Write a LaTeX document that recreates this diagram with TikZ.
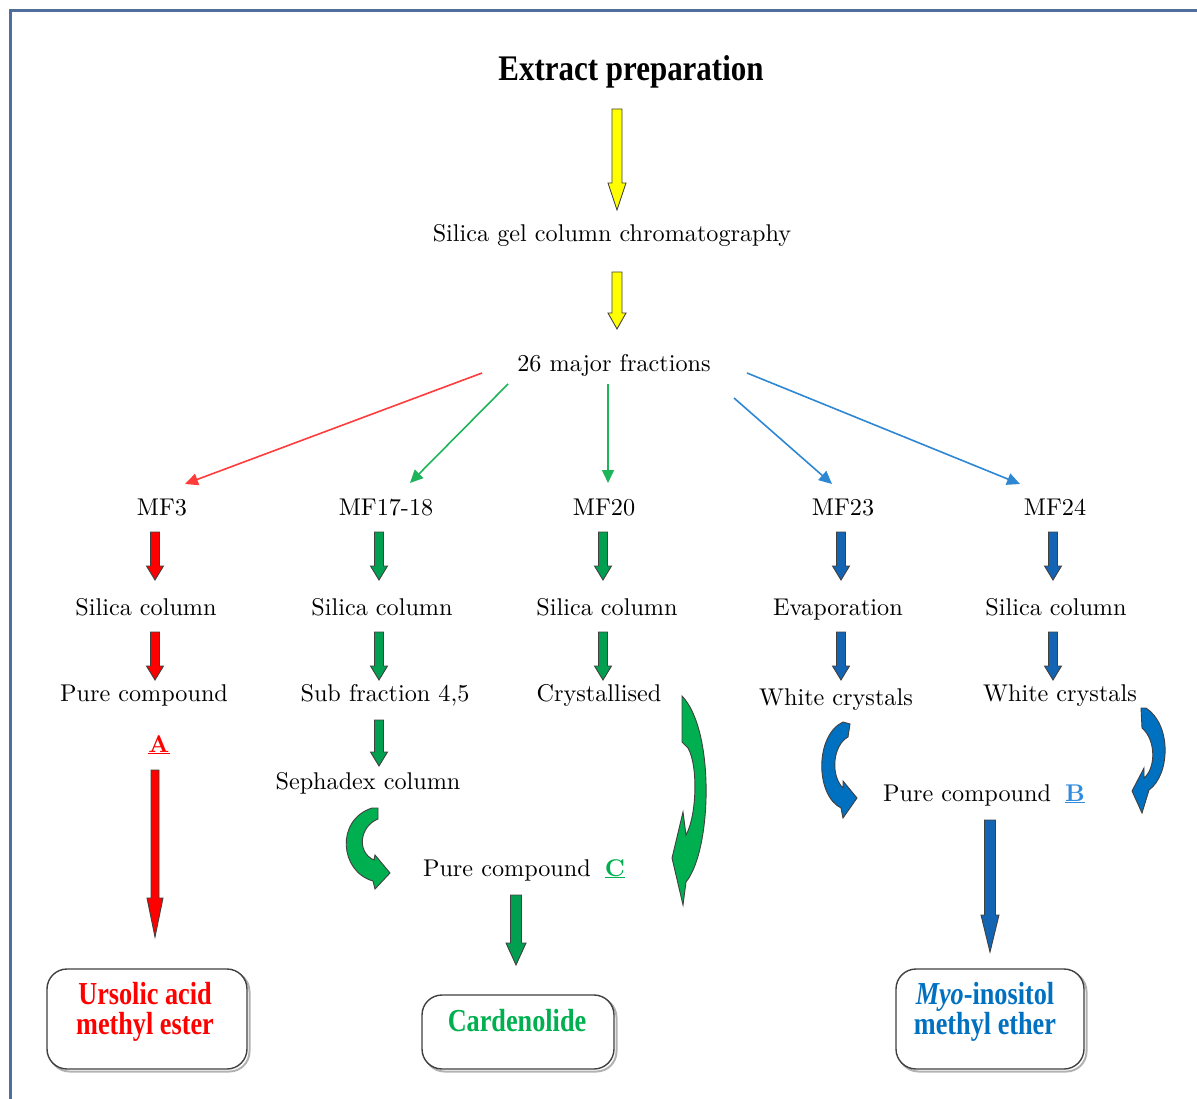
\documentclass[tikz,border=0pt]{standalone}
\usepackage{fontspec}
\setmainfont{lmroman10-regular.otf}[BoldFont=lmroman10-bold.otf, ItalicFont=lmroman10-italic.otf]
\newfontfamily\boxfont[FakeStretch=0.82]{Liberation Serif}
\newfontfamily\titlefont[FakeStretch=0.86]{Liberation Serif}
\usetikzlibrary{calc,arrows.meta}
\definecolor{frameblue}{RGB}{79,110,155}
\definecolor{ayellow}{RGB}{255,255,0}
\definecolor{ared}{RGB}{255,0,0}
\definecolor{agreen}{RGB}{0,160,80}
\definecolor{agreenC}{RGB}{0,176,80}
\definecolor{ablue}{RGB}{20,100,180}
\definecolor{ablueC}{RGB}{0,112,192}
\definecolor{tred}{RGB}{255,60,60}
\definecolor{tgreen}{RGB}{30,180,90}
\definecolor{tblue}{RGB}{45,135,210}
\definecolor{txtgreen}{RGB}{0,176,80}
\definecolor{txtblue}{RGB}{0,112,192}
\definecolor{Bblue}{RGB}{50,140,220}
\tikzset{
  lbl/.style={font=\fontsize{24.2}{28}\selectfont, text=black, inner sep=0pt, text height=17pt, text depth=5pt},
  thinarr/.style={line width=1.6pt, -{Triangle[length=13pt,width=12pt]}},
  blockline/.style={draw=black!75, line width=0.9pt, line join=miter},
  resbox/.style={draw=black!75, line width=1.4pt, rounded corners=20pt, fill=white},
  boxtxt/.style={font=\boxfont\bfseries\fontsize{32}{30}\selectfont, align=center, inner sep=0pt},
  titletxt/.style={font=\titlefont\bfseries\fontsize{36}{40}\selectfont, inner sep=0pt},
}
\newcommand\blockarrow[6]{%
  \draw[blockline, fill=#1] let \p1=(#2), \p2=(#3) in
  (\x1-#4pt,\y1) -- (\x1+#4pt,\y1) -- (\x1+#4pt,\y2+#6pt) -- (\x1+#5pt,\y2+#6pt)
  -- (\x1,\y2) -- (\x1-#5pt,\y2+#6pt) -- (\x1-#4pt,\y2+#6pt) -- cycle;}
\begin{document}
\begin{tikzpicture}[x=1pt,y=-1pt]
\useasboundingbox (0,0) rectangle (1197,1099);
% frame
\draw[frameblue, line width=3pt] (10,1099) -- (10,10.5) -- (1197,10.5);

% text nodes
\node[titletxt] (title) at (631,72) {Extract preparation};
\node[lbl] (sgcc) at (612,236) {Silica gel column chromatography};
\node[lbl] (maj) at (614,365) {26 major fractions};
\node[lbl] (mf3) at (162,509) {MF3};
\node[lbl] (mf1718) at (386,509) {MF17-18};
\node[lbl] (mf20) at (604,509) {MF20};
\node[lbl] (mf23) at (843,509) {MF23};
\node[lbl] (mf24) at (1055,509) {MF24};
\node[lbl] (sc1) at (146,609) {Silica column};
\node[lbl] (sc2) at (382,609) {Silica column};
\node[lbl] (sc3) at (607,609) {Silica column};
\node[lbl] (evap) at (838,609) {Evaporation};
\node[lbl] (sc5) at (1056,609) {Silica column};
\node[lbl] (pc1) at (144,695) {Pure compound};
\node[lbl] (sub) at (385,695) {Sub fraction 4,5};
\node[lbl] (cryst) at (599,695) {Crystallised};
\node[lbl] (wc1) at (836,699) {White crystals};
\node[lbl] (wc2) at (1060,695) {White crystals};
\node[lbl] (lA) at (159,746) {\textcolor{ared}{\underline{\textbf{A}}}};
\node[lbl] (seph) at (368,783) {Sephadex column};
\node[lbl] (pcC) at (524,870) {Pure compound\hspace{14pt}\textcolor{txtgreen}{\underline{\textbf{C}}}};
\node[lbl] (pcB) at (984,795) {Pure compound\hspace{14pt}\textcolor{Bblue}{\underline{\textbf{B}}}};

% result boxes
\draw[black!30, line width=2pt, rounded corners=20pt] (49.5,971.5) rectangle (249.5,1071.5);
\node[resbox, minimum width=200pt, minimum height=100pt] (ursbox) at (147,1019) {};
\node[boxtxt, text=ared] (urstxt) at (145,1012) {Ursolic acid\\methyl ester};
\draw[black!30, line width=2pt, rounded corners=20pt] (424.5,997.5) rectangle (616.5,1071.5);
\node[resbox, minimum width=192pt, minimum height=74pt] (cardbox) at (518,1032) {};
\node[boxtxt, text=txtgreen] (cardtxt) at (517,1021) {Cardenolide};
\draw[black!30, line width=2pt, rounded corners=20pt] (898.5,971.5) rectangle (1086.5,1071.5);
\node[resbox, minimum width=188pt, minimum height=100pt] (myobox) at (990,1019) {};
\node[boxtxt, text=txtblue] (myotxt) at (985,1012) {\textit{Myo}-inositol\\methyl ether};

% coordinates for arrow ends
\coordinate (yAs) at (617,109); \coordinate (yAe) at (617,210);
\coordinate (yBs) at (617,272); \coordinate (yBe) at (617,329);
\coordinate (raS) at (155,532); \coordinate (raE) at (155,580);
\coordinate (rbS) at (379,532); \coordinate (rbE) at (379,580);
\coordinate (rcS) at (603,532); \coordinate (rcE) at (603,580);
\coordinate (rdS) at (841,532); \coordinate (rdE) at (841,580);
\coordinate (reS) at (1053,532); \coordinate (reE) at (1053,580);
\coordinate (saS) at (155,632); \coordinate (saE) at (155,680);
\coordinate (sbS) at (379,632); \coordinate (sbE) at (379,680);
\coordinate (scS) at (603,632); \coordinate (scE) at (603,680);
\coordinate (sdS) at (841,632); \coordinate (sdE) at (841,680);
\coordinate (seS) at (1053,632); \coordinate (seE) at (1053,680);
\coordinate (gtS) at (379,720); \coordinate (gtE) at (379,766);
\coordinate (rlS) at (155,770); \coordinate (rlE) at (155,937);
\coordinate (gdS) at (516,895); \coordinate (gdE) at (516,965);
\coordinate (bdS) at (990,820); \coordinate (bdE) at (990,952);

% yellow arrows
\blockarrow{ayellow}{yAs}{yAe}{5}{9}{27}
\blockarrow{ayellow}{yBs}{yBe}{5}{9}{16}

% thin arrows from 26 major fractions
\coordinate (t1s) at (482,373); \coordinate (t1e) at (185,484);
\coordinate (t2s) at (508,384); \coordinate (t2e) at (410,483);
\coordinate (t3s) at (608,384); \coordinate (t3e) at (608,483);
\coordinate (t4s) at (734,398); \coordinate (t4e) at (832,484);
\coordinate (t5s) at (747,373); \coordinate (t5e) at (1020,484);
\draw[thinarr, tred] (t1s) -- (t1e);
\draw[thinarr, tgreen] (t2s) -- (t2e);
\draw[thinarr, tgreen] (t3s) -- (t3e);
\draw[thinarr, tblue] (t4s) -- (t4e);
\draw[thinarr, tblue] (t5s) -- (t5e);

% small block arrows
\blockarrow{ared}{raS}{raE}{4.5}{8.5}{14}
\blockarrow{agreen}{rbS}{rbE}{4.5}{8.5}{14}
\blockarrow{agreen}{rcS}{rcE}{4.5}{8.5}{14}
\blockarrow{ablue}{rdS}{rdE}{4.5}{8.5}{14}
\blockarrow{ablue}{reS}{reE}{4.5}{8.5}{14}
\blockarrow{ared}{saS}{saE}{4.5}{8.5}{14}
\blockarrow{agreen}{sbS}{sbE}{4.5}{8.5}{14}
\blockarrow{agreen}{scS}{scE}{4.5}{8.5}{14}
\blockarrow{ablue}{sdS}{sdE}{4.5}{8.5}{14}
\blockarrow{ablue}{seS}{seE}{4.5}{8.5}{14}
\blockarrow{agreen}{gtS}{gtE}{4.5}{8.5}{14}
\blockarrow{ared}{rlS}{rlE}{4}{8}{39}
\blockarrow{agreen}{gdS}{gdE}{5.5}{10}{22}
\blockarrow{ablue}{bdS}{bdE}{5.5}{9}{37}

% curved arrows
\draw[blockline, fill=agreenC] (372,808) -- (378,808) -- (378,819)
  .. controls (360,826) and (356,852) .. (374,860) -- (375,855) -- (390,873)
  -- (375,889) -- (373,881) .. controls (340,872) and (335,820) .. (372,808) -- cycle;
\draw[blockline, fill=agreenC] (682,696) -- (682,742) -- (688,748)
  .. controls (698,765) and (697,815) .. (686,835) -- (683,812) -- (672,858)
  -- (683,905) -- (686,882) .. controls (712,850) and (715,730) .. (682,696) -- cycle;
\draw[blockline, fill=ablueC] (843,722) -- (850,724) -- (848,737)
  .. controls (833,745) and (830,775) .. (843,788) -- (843,781) -- (857,798)
  -- (843,818) -- (841,808) .. controls (815,795) and (815,735) .. (843,722) -- cycle;
\draw[blockline, fill=ablueC] (1141,708) -- (1146,708)
  .. controls (1172,725) and (1170,775) .. (1149,790) -- (1142,813) -- (1132,791)
  -- (1144,768) -- (1144,778) .. controls (1156,768) and (1156,740) .. (1142,728) -- cycle;
\end{tikzpicture}
\end{document}
